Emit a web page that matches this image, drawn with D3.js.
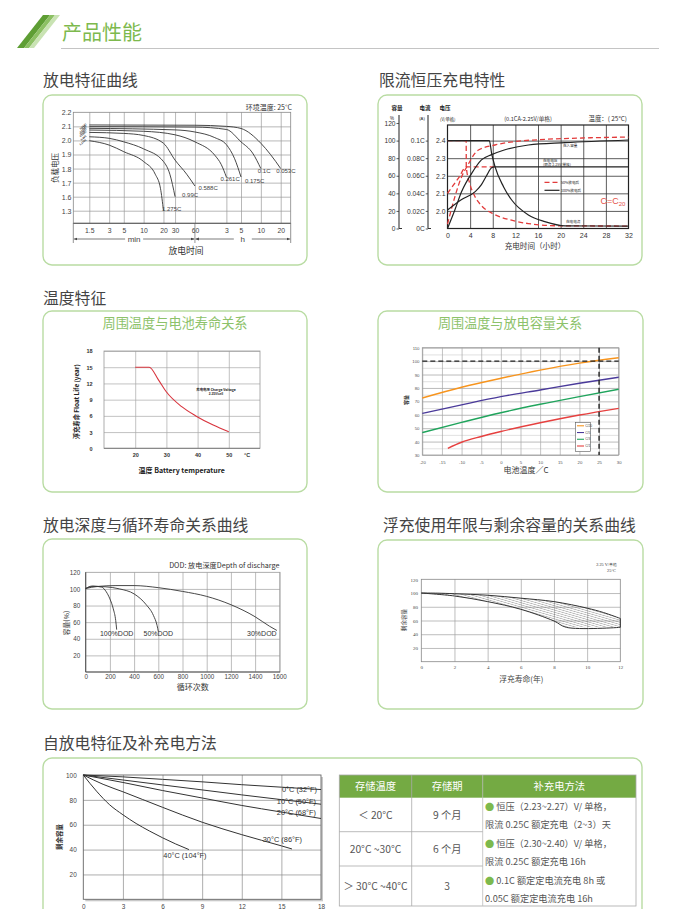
<!DOCTYPE html>
<html><head><meta charset="utf-8"><title>产品性能</title>
<script src="https://cdn.jsdelivr.net/npm/d3@7/dist/d3.min.js"></script>
<style>html,body{margin:0;padding:0;background:#fff}svg{display:block}</style>
</head><body><svg id="c" width="675" height="909" viewBox="0 0 675 909"></svg>
<script>
// ================= DATA =================
const pageTitle = "产品性能";
const sectionTitles = ["放电特征曲线","限流恒压充电特性","温度特征","放电深度与循环寿命关系曲线","浮充使用年限与剩余容量的关系曲线","自放电特征及补充电方法"];
const panelTitles = ["周围温度与电池寿命关系","周围温度与放电容量关系"];

// 1. discharge characteristics (x: minutes, y: V/cell)
const dischargeTimeTicks = [1.5,3,5,10,20,30,60,180,300,600,1200];
const dischargeTimeLabels = ["1.5","3","5","10","20","30","60","3","5","10","20"];
const dischargeVoltTicks = [2.2,2.1,2.0,1.9,1.8,1.7,1.6,1.3];
const dischargeVoltLabels = ["2.2","2.1","2.0","1.9","1.8","1.7","1.6","1.3"];
const dischargeRates = ["0.053C","0.1C","0.175C","0.261C","0.588C","0.99C","1.275C"];
const dischargeCurves = [
  [[1.5,2.11],[60,2.108],[180,2.1],[300,2.085],[600,1.98],[840,1.9],[1200,1.8]],
  [[1.5,2.098],[60,2.095],[180,2.078],[300,1.99],[450,1.91],[600,1.8]],
  [[1.5,2.086],[30,2.075],[60,2.06],[120,2.02],[180,1.97],[240,1.87],[300,1.74]],
  [[1.5,2.074],[10,2.065],[30,2.04],[60,1.99],[120,1.895],[150,1.83],[180,1.74]],
  [[1.5,2.057],[5,2.05],[10,2.035],[20,1.98],[30,1.86],[45,1.76],[60,1.676]],
  [[1.5,2.026],[3,2.015],[5,1.99],[10,1.94],[20,1.85],[25,1.76],[30,1.6]],
  [[1.5,1.998],[3,1.967],[5,1.92],[10,1.85],[15,1.76],[18,1.66],[20,1.3]]
];
const ambientNote = "环境温度: 25°C";

// 2. constant-voltage current-limited charging (x: hours)
const chargeTimeTicks = [0,4,8,12,16,20,24,28,32];
const capTicks = [0,20,40,60,80,100,120];
const curTicks = [0,0.02,0.04,0.06,0.08,0.1];
const curTickLabels = ["0C","0.02C","0.04C","0.06C","0.08C","0.1C"];
const chgVoltTicks = [2.0,2.1,2.2,2.3,2.4];
const chgVoltLabels = ["2.0","2.1","2.2","2.3","2.4"];
const cap50 = [[0,5],[1.3,36],[2.5,59],[3.4,70],[5.4,89],[8.4,95],[12,99],[16,101],[24,103],[32,104]];        // %
const cap100 = [[0,0],[1.3,21],[2.5,42],[4.3,63],[6.0,78],[7.8,84],[9.9,89],[14.3,95],[20.8,97.6],[32,100.7]]; // %
const cur50 = [[0,0.1],[3.3,0.1],[3.32,0.07],[3.9,0.052],[4.8,0.037],[6.0,0.026],[8.3,0.016],[11.3,0.0094],[14.3,0.0056],[20,0.003],[32,0.0028]]; // C
const cur100 = [[0,0.1],[7.4,0.1],[7.8,0.0856],[8.4,0.0704],[9.9,0.0476],[11.35,0.0324],[14.3,0.0154],[17.2,0.0078],[20.8,0.003],[32,0.0028]]; // C
const volt50 = [[0,2.1],[1,2.145],[2,2.19],[3.3,2.25],[8.3,2.25]];   // V
const volt100 = [[0,2.005],[2.5,2.065],[4.9,2.11],[6.0,2.15],[6.9,2.2],[7.8,2.245],[8.3,2.25],[32,2.25]]; // V
const chargeLegend = ["50%放电后","100%放电后"];

// 3. temperature vs float life
const lifeTempTicks = [20,30,40,50];
const lifeTicks = [0,3,6,9,12,15,18];
const floatLifeCurve = [[20,15],[24.5,15],[27.4,12.7],[29.9,10.5],[34.9,7.7],[39.7,5.9],[45,4.3],[50,3.05]];

// 4. temperature vs capacity
const capTempTicks = [-20,-15,-10,-5,0,5,10,15,20,25,30];
const capPctTicks = [30,40,50,60,70,80,90,100,110];
const capRates = ["C/20","C/5","C/3","C/1"];
const capCurves = [
  [[-20,72.5],[-10,80.5],[0,87.2],[10,93.3],[20,98.5],[30,102.5]],
  [[-20,61],[-10,67.4],[0,73.5],[10,78.5],[20,83.5],[30,88]],
  [[-20,46.7],[-10,54.3],[0,61.5],[10,67.8],[20,73.5],[30,79]],
  [[-13.5,35],[-10,39.5],[-5,43.8],[0,47.5],[10,54],[20,59.8],[30,64.8]]
];
const capRefLevel = 100, capRefTemp = 25;

// 5. DOD vs cycle life
const cycleTicks = [0,200,400,600,800,1000,1200,1400,1600];
const dodCapTicks = [20,40,60,80,100,120];
const dodNames = ["100%DOD","50%DOD","30%DOD"];
const dodCurves = [
  [[0,100.5],[55,103.5],[130,102.3],[170,96.5],[200,88],[228,76],[248,62],[256,51]],
  [[0,100.5],[60,103],[160,102.6],[280,100],[400,94],[500,81],[560,68],[590,56],[600,49]],
  [[0,100.5],[100,103],[250,104],[400,104],[600,101.5],[800,97],[1000,91],[1200,81],[1400,66.5],[1520,55],[1580,50]]
];

// 6. float years vs remaining capacity
const yearTicks = [0,2,4,6,8,10,12];
const remCapTicks = [20,40,60,80,100,120];
const floatUpper = [[0,100],[1,99.8],[2,99],[4,96.8],[6,92.5],[8,87.5],[10,78],[11,71.5],[12,63]];
const floatLower = [[0,100],[2,95.7],[4,87.5],[6,76.3],[8,59.3],[8.75,50],[12,50]];

// 7. self discharge (x: months)
const sdMonthTicks = [0,3,6,9,12,15,18];
const sdCapTicks = [20,40,60,80,100];
const sdNames = ["0°C (32°F)","10°C (50°F)","20°C (68°F)","30°C (86°F)","40°C (104°F)"];
const sdCurves = [
  [[0,100],[3,98.5],[6,96.5],[9,94.5],[12,92.2],[15,90.2],[18,88.3]],
  [[0,100],[3,96],[6,92],[9,88],[12,84],[15,80.2],[18,76.5]],
  [[0,100],[3,94],[6,87.5],[9,81.5],[12,75.5],[15,70.2],[18,65]],
  [[0,100],[1.5,92.5],[3,86.5],[6,74],[9,62],[12,52],[15,43],[15.8,40.5]],
  [[0,100],[1,87],[2,76],[3,68],[4,61],[5,55],[6,49.5],[7,44.5],[8,40]]
];

// table
const tableHeader = ["存储温度","存储期","补充电方法"];
const tableTemp = ["＜ 20°C","20°C ~30°C","＞ 30°C ~40°C"];
const tablePeriod = ["9 个月","6 个月","3"];
const tableMethod = [
  ["恒压（2.23~2.27）V/ 单格，","限流 0.25C 额定充电（2~3）天"],
  ["恒压（2.30~2.40）V/ 单格，","限流 0.25C 额定充电 16h"],
  ["0.1C 额定定电流充电 8h 或","0.05C 额定定电流充电 16h"]
];

// ================= DRAWING =================
const svg = d3.select('#c');
const CJK = '"Noto Sans CJK SC","Noto Sans",sans-serif';
const SANS = '"Liberation Sans",Arial,sans-serif';
const SERIF = '"Liberation Serif","Times New Roman",serif';
const GREEN = '#7db94d';

function T(g, x, y, s, o = {}) {
  const t = g.append('text').attr('x', x).attr('y', y).text(s)
    .attr('font-family', o.ff || SANS).attr('font-size', o.fs || 8)
    .attr('fill', o.fill || '#333').attr('text-anchor', o.anchor || 'start');
  if (o.fw) t.attr('font-weight', o.fw);
  if (o.rot != null) t.attr('transform', `rotate(${o.rot},${x},${y})`);
  return t;
}
function ax(g, o) {
  g.attr('font-size', o.fs || 7).attr('font-family', o.ff || SANS);
  g.select('.domain').remove();
  g.selectAll('.tick text').attr('fill', o.fill || '#444');
  if (o.fw) g.selectAll('.tick text').attr('font-weight', o.fw);
  g.selectAll('.tick line').attr('stroke', o.stroke || '#999').attr('stroke-width', o.sw || 0.7);
  return g;
}
function gridY(p, scale, vals, xL, xR, stroke, sw) {
  const g = p.append('g').attr('transform', `translate(${xL},0)`)
    .call(d3.axisLeft(scale).tickValues(vals).tickSize(-(xR - xL)).tickFormat(''));
  return ax(g, { stroke, sw });
}
function gridX(p, scale, vals, yT, yB, stroke, sw) {
  const g = p.append('g').attr('transform', `translate(0,${yB})`)
    .call(d3.axisBottom(scale).tickValues(vals).tickSize(-(yB - yT)).tickFormat(''));
  return ax(g, { stroke, sw });
}
function labelsY(p, scale, vals, labels, x, o) {
  const g = p.append('g').attr('transform', `translate(${x},0)`)
    .call(d3.axisLeft(scale).tickValues(vals).tickSize(0).tickPadding(0).tickFormat((d, i) => labels ? labels[i] : d));
  ax(g, o);
  g.selectAll('.tick text').attr('x', 0).attr('dy', '0.35em');
  return g;
}
function labelsX(p, scale, vals, labels, y, o) {
  const g = p.append('g').attr('transform', `translate(0,${y})`)
    .call(d3.axisBottom(scale).tickValues(vals).tickSize(0).tickPadding(0).tickFormat((d, i) => labels ? labels[i] : d));
  ax(g, o);
  g.selectAll('.tick text').attr('y', 0).attr('dy', null);
  return g;
}
function frame(p, x0, y0, x1, y1, stroke, sw) {
  p.append('rect').attr('x', x0).attr('y', y0).attr('width', x1 - x0).attr('height', y1 - y0)
    .attr('fill', 'none').attr('stroke', stroke).attr('stroke-width', sw);
}
function panel(x, y, w, h) {
  svg.append('rect').attr('x', x).attr('y', y).attr('width', w).attr('height', h).attr('rx', 9)
    .attr('fill', '#fff').attr('stroke', '#b9dca3').attr('stroke-width', 1.4);
}

const defs = svg.append('defs');
defs.append('marker').attr('id', 'arr').attr('viewBox', '0 0 10 10').attr('refX', 10).attr('refY', 5)
  .attr('markerWidth', 5).attr('markerHeight', 5).attr('orient', 'auto-start-reverse')
  .append('path').attr('d', 'M0,1L10,5L0,9z').attr('fill', '#444');
const pat = defs.append('pattern').attr('id', 'hatch').attr('patternUnits', 'userSpaceOnUse')
  .attr('width', 8).attr('height', 2.1).attr('patternTransform', 'rotate(16)');
pat.append('line').attr('x1', 0).attr('y1', 1).attr('x2', 8).attr('y2', 1).attr('stroke', '#555').attr('stroke-width', 0.4);

// ---- header ----
const stripes = [['#5e9e34', 17, 24, 43, 50], ['#8cc063', 24, 29, 50, 55], ['#c9e3b3', 29, 34, 55, 60]];
stripes.forEach(s => svg.append('polygon')
  .attr('points', `${s[1]},48 ${s[2]},48 ${s[4]},15 ${s[3]},15`).attr('fill', s[0]));
T(svg, 62, 39.5, pageTitle, { ff: CJK, fs: 20, fill: GREEN });
svg.append('line').attr('x1', 61).attr('x2', 659).attr('y1', 48.5).attr('y2', 48.5).attr('stroke', '#c4c4c4').attr('stroke-width', 1);

const secPos = [[43, 86], [379, 86], [43, 304], [43, 531], [383, 531], [43, 749]];
sectionTitles.forEach((s, i) => T(svg, secPos[i][0], secPos[i][1], s, { ff: CJK, fs: 15.8, fill: '#444' }));

// panels
panel(43, 95, 264, 170);
panel(378, 95, 264, 170);
panel(43, 311, 264, 181);
panel(378, 311, 265, 181);
panel(43, 539, 264, 170);
panel(378, 540, 265, 169);
panel(43, 758, 599, 200);

// ================= PANEL 1 =================
{
  const g = svg.append('g');
  const f = { l: 73.3, r: 290.7, t: 112.3, b: 223.3 };
  const x = d3.scaleLog().domain([1.5, 1200]).range([89.3, 280.7]);
  const y = d3.scaleLinear().domain([1.3, 1.6, 2.2]).range([210.7, 196.7, 112.3]);
  gridY(g, y, dischargeVoltTicks.slice(1), f.l, f.r, '#9a9a9a', 0.7);
  gridX(g, x, dischargeTimeTicks, f.t, f.b, '#9a9a9a', 0.7);
  frame(g, f.l, f.t, f.r, f.b, '#888', 0.8);
  g.append('line').attr('x1', f.l).attr('x2', f.r).attr('y1', f.b).attr('y2', f.b).attr('stroke', '#555').attr('stroke-width', 1.1);
  labelsY(g, y, dischargeVoltTicks, dischargeVoltLabels, 71.5, { fs: 7, fill: '#444' });
  labelsX(g, x, dischargeTimeTicks, dischargeTimeLabels, 232.5, { fs: 6.8, fill: '#444' });
  const line = d3.line().x(d => x(d[0])).y(d => y(d[1])).curve(d3.curveMonotoneX);
  dischargeCurves.forEach(c => g.append('path').attr('d', line(c)).attr('fill', 'none').attr('stroke', '#333').attr('stroke-width', 0.9));
  const lblOff = [[-4.5, 4.5], [-3, 4.5], [4, 5.5], [-6, 4], [3.5, 3.5], [7, 0], [-1.5, 0.5]];
  dischargeCurves.forEach((c, i) => {
    const e = c[c.length - 1];
    T(g, x(e[0]) + lblOff[i][0], y(e[1]) + lblOff[i][1], dischargeRates[i], { fs: 6, fill: '#444' });
  });
  // tiny start labels
  dischargeCurves.forEach((c, i) => {
    const s = c[0];
    T(g, x(s[0]) - 2.5, y(s[1]) - 0.5, dischargeRates[i], { fs: 2.6, fill: '#222', fw: 'bold', anchor: 'end', rot: -40 });
  });
  T(g, 292, 110, ambientNote, { ff: CJK, fs: 7, fill: '#333', anchor: 'end' });
  T(g, 55, 168, '负载电压', { ff: CJK, fs: 7.5, fill: '#333', anchor: 'middle', rot: -90 }).attr('dy', '0.35em');
  // min / h row
  const x60 = x(60), yr = 239;
  [[f.l, x60, 'min'], [x60, f.r, 'h']].forEach(seg => {
    const c = (seg[0] + seg[1]) / 2;
    g.append('line').attr('x1', seg[0] + 0.5).attr('x2', seg[1] - 0.5).attr('y1', yr).attr('y2', yr)
      .attr('stroke', '#444').attr('stroke-width', 0.7).attr('marker-start', 'url(#arr)').attr('marker-end', 'url(#arr)');
    g.append('rect').attr('x', c - 9).attr('y', yr - 4).attr('width', 18).attr('height', 8).attr('fill', '#fff');
    T(g, c, yr + 2.8, seg[2], { fs: 8, fill: '#444', anchor: 'middle' });
  });
  [f.l, x60, f.r].forEach(v => g.append('line').attr('x1', v).attr('x2', v).attr('y1', f.b).attr('y2', 243).attr('stroke', '#666').attr('stroke-width', 0.7));
  T(g, 186, 253.5, '放电时间', { ff: CJK, fs: 8.8, fill: '#333', anchor: 'middle' });
}

// ================= PANEL 2 =================
{
  const g = svg.append('g');
  const f = { l: 447.5, r: 628.5, t: 125, b: 228.5 };
  const x = d3.scaleLinear().domain([0, 32]).range([447.5, 628.5]);
  const yv = d3.scaleLinear().domain([1.9, 2.4]).range([228.5, 140.6]);
  const yCap = d3.scaleLinear().domain([0, 100]).range([228.5, 140.6]);
  const yCur = d3.scaleLinear().domain([0, 0.1]).range([228.5, 140.6]);
  gridY(g, yv, chgVoltTicks, f.l, f.r, '#333', 0.8);
  gridX(g, x, chargeTimeTicks.slice(1, -1), f.t, f.b, '#333', 0.8);
  frame(g, f.l, f.t, f.r, f.b, '#222', 1.2);
  // left axes
  const ca = g.append('g').attr('transform', 'translate(399,0)')
    .call(d3.axisLeft(yCap).tickValues(capTicks).tickSize(2.5).tickPadding(1));
  ax(ca, { fs: 6.6, fill: '#333', stroke: '#333', sw: 0.8 });
  g.append('line').attr('x1', 399).attr('x2', 399).attr('y1', 115).attr('y2', yCap(0)).attr('stroke', '#333').attr('stroke-width', 1.1);
  g.append('line').attr('x1', 399).attr('x2', 402).attr('y1', yCap(0)).attr('y2', yCap(0)).attr('stroke', '#333').attr('stroke-width', 1);
  const cu = g.append('g').attr('transform', 'translate(428,0)')
    .call(d3.axisLeft(yCur).tickValues(curTicks).tickSize(2.3).tickPadding(1).tickFormat((d, i) => curTickLabels[i]));
  ax(cu, { fs: 6.6, fill: '#333', stroke: '#333', sw: 0.8 });
  g.append('line').attr('x1', 428).attr('x2', 428).attr('y1', 115).attr('y2', yCur(0)).attr('stroke', '#333').attr('stroke-width', 1.1);
  g.append('line').attr('x1', 428).attr('x2', 431).attr('y1', yCur(0)).attr('y2', yCur(0)).attr('stroke', '#333').attr('stroke-width', 1);
  labelsY(g, yv, chgVoltTicks, chgVoltLabels, 445.5, { fs: 6.8, fill: '#333' });
  labelsX(g, x, chargeTimeTicks, null, 237.5, { fs: 7, fill: '#333' });
  T(g, 535, 249, '充电时间（小时）', { ff: CJK, fs: 7.6, fill: '#333', anchor: 'middle' });
  // header labels
  T(g, 397, 110, '容量', { ff: CJK, fs: 5.5, fill: '#222', anchor: 'middle', fw: 'bold' });
  T(g, 392, 119.5, '%', { fs: 4.5, fill: '#222', anchor: 'middle' });
  T(g, 425, 110, '电流', { ff: CJK, fs: 5.5, fill: '#222', anchor: 'middle', fw: 'bold' });
  T(g, 422, 119.5, '(A)', { fs: 4.2, fill: '#222', anchor: 'middle' });
  T(g, 445, 110, '电压', { ff: CJK, fs: 5.5, fill: '#222', anchor: 'middle', fw: 'bold' });
  T(g, 440, 120.5, '(V/单格)', { ff: CJK, fs: 4.3, fill: '#222' });
  T(g, 528, 121, '(0.1CA-2.25V/单格)', { ff: CJK, fs: 5.6, fill: '#333', anchor: 'middle' });
  T(g, 627, 121, '温度：( 25°C)', { ff: CJK, fs: 6.4, fill: '#333', anchor: 'end' });
  const L = (ys) => d3.line().x(d => x(d[0])).y(d => ys(d[1])).curve(d3.curveMonotoneX);
  const red = '#e23b3b';
  [[cap50, yCap], [cur50, yCur], [volt50, yv]].forEach(([c, s]) =>
    g.append('path').attr('d', L(s)(c)).attr('fill', 'none').attr('stroke', red).attr('stroke-width', 1.3).attr('stroke-dasharray', '5,3'));
  [[cap100, yCap], [cur100, yCur], [volt100, yv]].forEach(([c, s]) =>
    g.append('path').attr('d', L(s)(c)).attr('fill', 'none').attr('stroke', '#222').attr('stroke-width', 1.2));
  // annotations
  T(g, 563, 147, '充入容量', { ff: CJK, fs: 3.6, fill: '#222' });
  T(g, 543, 162, '充电电压', { ff: CJK, fs: 3.6, fill: '#222' });
  T(g, 543, 166.3, '(限流 2.25V/单格)', { ff: CJK, fs: 3.6, fill: '#222' });
  T(g, 566, 223, '充电电流', { ff: CJK, fs: 3.6, fill: '#222' });
  g.append('line').attr('x1', 544.5).attr('x2', 559.5).attr('y1', 182.3).attr('y2', 182.3).attr('stroke', red).attr('stroke-width', 1.3).attr('stroke-dasharray', '5,3');
  g.append('line').attr('x1', 544.5).attr('x2', 559.5).attr('y1', 190.3).attr('y2', 190.3).attr('stroke', '#222').attr('stroke-width', 1.2);
  T(g, 561, 183.6, chargeLegend[0], { ff: CJK, fs: 3.6, fill: '#222' });
  T(g, 561, 191.6, chargeLegend[1], { ff: CJK, fs: 3.6, fill: '#222' });
  const cc = T(g, 600.5, 204, 'C=C', { fs: 9, fill: '#e5534b' });
  cc.append('tspan').attr('font-size', 6).attr('dy', 1.5).text('20');
}

// ================= PANEL 3 =================
{
  const g = svg.append('g');
  T(g, 175, 328, panelTitles[0], { ff: CJK, fs: 13.2, fill: '#8dc26a', anchor: 'middle' });
  const f = { l: 104, r: 260, t: 351, b: 448.3 };
  const x = d3.scaleLinear().domain([10, 60]).range([104, 260]);
  const y = d3.scaleLinear().domain([0, 18]).range([448.3, 351]);
  gridY(g, y, lifeTicks.slice(1), f.l, f.r, '#a8a8a8', 0.7);
  gridX(g, x, lifeTempTicks, f.t, f.b, '#a8a8a8', 0.7);
  frame(g, f.l, f.t, f.r, f.b, '#999', 0.8);
  g.append('line').attr('x1', f.l).attr('x2', f.r).attr('y1', f.b).attr('y2', f.b).attr('stroke', '#777').attr('stroke-width', 0.9);
  labelsY(g, y, lifeTicks, null, 92.5, { fs: 5.5, fill: '#333', fw: 'bold' });
  labelsX(g, x, lifeTempTicks, null, 456.5, { fs: 5.5, fill: '#333', fw: 'bold' });
  T(g, 244, 456.5, '°C', { fs: 5.5, fill: '#333', fw: 'bold' });
  T(g, 181.7, 472.5, '温度  Battery temperature', { ff: CJK, fs: 7, fill: '#222', fw: 'bold', anchor: 'middle' });
  T(g, 76.7, 401.7, '浮充寿命  Float Life (year)', { ff: CJK, fs: 6.3, fill: '#222', fw: 'bold', anchor: 'middle', rot: -90 }).attr('dy', '0.35em');
  T(g, 216, 391, '充电电压 Charge Voltage', { ff: CJK, fs: 3.4, fill: '#222', anchor: 'middle', fw: 'bold' });
  T(g, 216, 395, '2.25V/cell', { fs: 3.2, fill: '#222', anchor: 'middle', fw: 'bold' });
  const line = d3.line().x(d => x(d[0])).y(d => y(d[1])).curve(d3.curveMonotoneX);
  g.append('path').attr('d', line(floatLifeCurve)).attr('fill', 'none').attr('stroke', '#d8343d').attr('stroke-width', 1.1);
}

// ================= PANEL 4 =================
{
  const g = svg.append('g');
  T(g, 510, 328, panelTitles[1], { ff: CJK, fs: 13.1, fill: '#8dc26a', anchor: 'middle' });
  const f = { l: 422.3, r: 618.7, t: 347.7, b: 455 };
  const x = d3.scaleLinear().domain([-20, 30]).range([f.l, f.r]);
  const y = d3.scaleLinear().domain([30, 110]).range([f.b, f.t]);
  gridY(g, y, d3.range(35, 110, 10), f.l, f.r, '#d4d4d4', 0.7);
  gridY(g, y, capPctTicks, f.l, f.r, '#9e9e9e', 0.7);
  gridX(g, x, capTempTicks, f.t, f.b, '#a8a8a8', 0.7);
  frame(g, f.l, f.t, f.r, f.b, '#999', 0.8);
  labelsY(g, y, capPctTicks, null, 419.5, { fs: 4.3, fill: '#555' });
  labelsX(g, x, capTempTicks, null, 463.5, { fs: 4.3, fill: '#555' });
  T(g, 526, 473, '电池温度／C', { ff: CJK, fs: 8, fill: '#333', anchor: 'middle' });
  T(g, 406.5, 400, '容量', { ff: CJK, fs: 5, fill: '#333', fw: 'bold', anchor: 'middle', rot: -90 }).attr('dy', '0.35em');
  const colors = ['#f7941d', '#4a3a9a', '#1fa45c', '#e6403f'];
  const line = d3.line().x(d => x(d[0])).y(d => y(d[1])).curve(d3.curveMonotoneX);
  capCurves.forEach((c, i) => g.append('path').attr('d', line(c)).attr('fill', 'none').attr('stroke', colors[i]).attr('stroke-width', 1.4));
  g.append('line').attr('x1', f.l).attr('x2', f.r).attr('y1', y(capRefLevel)).attr('y2', y(capRefLevel))
    .attr('stroke', '#222').attr('stroke-width', 1.4).attr('stroke-dasharray', '5,3');
  g.append('line').attr('x1', x(capRefTemp)).attr('x2', x(capRefTemp)).attr('y1', f.t).attr('y2', f.b)
    .attr('stroke', '#222').attr('stroke-width', 1.4).attr('stroke-dasharray', '5,3');
  // legend
  g.append('rect').attr('x', 575.3).attr('y', 422.3).attr('width', 15).attr('height', 29.4).attr('fill', '#fff').attr('stroke', '#555').attr('stroke-width', 0.6);
  const ly = d3.scalePoint().domain(capRates).range([425.8, 446]);
  capRates.forEach((r, i) => {
    g.append('line').attr('x1', 577).attr('x2', 584).attr('y1', ly(r)).attr('y2', ly(r)).attr('stroke', colors[i]).attr('stroke-width', 1.1);
    T(g, 585.2, ly(r) + 1.2, r, { fs: 3.3, fill: '#444' });
  });
}

// ================= PANEL 5 =================
{
  const g = svg.append('g');
  const f = { l: 85.7, r: 280, t: 572.3, b: 672 };
  const x = d3.scaleLinear().domain([0, 1600]).range([85.7, 279.3]);
  const y = d3.scaleLinear().domain([0, 120]).range([672, 572.3]);
  gridY(g, y, dodCapTicks.slice(0, -1), f.l, f.r, '#a0a0a0', 0.7);
  gridX(g, x, cycleTicks.slice(1), f.t, f.b, '#a0a0a0', 0.7);
  frame(g, f.l, f.t, f.r, f.b, '#999', 0.8);
  g.append('line').attr('x1', f.l).attr('x2', f.r).attr('y1', f.b).attr('y2', f.b).attr('stroke', '#555').attr('stroke-width', 1.1);
  g.append('line').attr('x1', f.l).attr('x2', f.l).attr('y1', f.t).attr('y2', f.b).attr('stroke', '#555').attr('stroke-width', 1.1);
  labelsY(g, y, dodCapTicks, null, 80.3, { fs: 6.3, fill: '#444' });
  labelsX(g, x, cycleTicks, null, 678.5, { fs: 6.3, fill: '#444' });
  T(g, 192.7, 689.5, '循环次数', { ff: CJK, fs: 8, fill: '#333', anchor: 'middle' });
  T(g, 66.7, 623, '容量(%)', { ff: CJK, fs: 6.8, fill: '#333', anchor: 'middle', rot: -90 }).attr('dy', '0.35em');
  T(g, 279.5, 568.3, 'DOD: 放电深度Depth of discharge', { ff: CJK, fs: 7.2, fill: '#333', anchor: 'end' });
  const line = d3.line().x(d => x(d[0])).y(d => y(d[1])).curve(d3.curveMonotoneX);
  dodCurves.forEach(c => g.append('path').attr('d', line(c)).attr('fill', 'none').attr('stroke', '#333').attr('stroke-width', 0.9));
  const dx = [0, 0, -15];
  dodCurves.forEach((c, i) => {
    const e = c[c.length - 1];
    T(g, x(e[0]) + dx[i], 635.5, dodNames[i], { fs: 7, fill: '#333', anchor: 'middle' });
  });
}

// ================= PANEL 6 =================
{
  const g = svg.append('g');
  const f = { l: 421.3, r: 620.3, t: 579.3, b: 661.7 };
  const x = d3.scaleLinear().domain([0, 12]).range([f.l, f.r]);
  const y = d3.scaleLinear().domain([0, 120]).range([f.b, f.t]);
  gridY(g, y, remCapTicks.slice(0, -1), f.l, f.r, '#a0a0a0', 0.7);
  gridX(g, x, yearTicks.slice(1, -1), f.t, f.b, '#a0a0a0', 0.7);
  frame(g, f.l, f.t, f.r, f.b, '#888', 0.8);
  labelsY(g, y, remCapTicks, null, 418, { ff: SERIF, fs: 5, fill: '#444' });
  labelsX(g, x, yearTicks, null, 668.8, { ff: SERIF, fs: 5, fill: '#444' });
  T(g, 521.3, 682, '浮充寿命(年)', { ff: CJK, fs: 7.8, fill: '#444', anchor: 'middle' });
  T(g, 404, 620, '剩余容量', { ff: CJK, fs: 5.6, fill: '#444', anchor: 'middle', rot: -90 }).attr('dy', '0.35em');
  T(g, 617, 565.5, '2.25 V/单格', { ff: SERIF, fs: 4.3, fill: '#333', anchor: 'end' });
  T(g, 616, 571.5, '25°C', { ff: SERIF, fs: 4.3, fill: '#333', anchor: 'end' });
  const line = d3.line().x(d => x(d[0])).y(d => y(d[1])).curve(d3.curveCatmullRom.alpha(0.5));
  const lineL = d3.line().x(d => x(d[0])).y(d => y(d[1])).curve(d3.curveLinear);
  const lowerRev = floatLower.slice().reverse();
  const areaD = line(floatUpper) + 'L' + lineL(lowerRev).slice(1) + 'Z';
  g.append('path').attr('d', areaD).attr('fill', 'url(#hatch)').attr('stroke', 'none');
  g.append('path').attr('d', line(floatUpper)).attr('fill', 'none').attr('stroke', '#333').attr('stroke-width', 1);
  g.append('path').attr('d', line(floatLower)).attr('fill', 'none').attr('stroke', '#333').attr('stroke-width', 1);
  const eU = floatUpper[floatUpper.length - 1], eL = floatLower[floatLower.length - 1];
  g.append('line').attr('x1', x(eU[0])).attr('x2', x(eL[0])).attr('y1', y(eU[1])).attr('y2', y(eL[1])).attr('stroke', '#333').attr('stroke-width', 1);
}

// ================= PANEL 7 =================
{
  const g = svg.append('g');
  const f = { l: 83.3, r: 321, t: 775, b: 899.3 };
  const x = d3.scaleLinear().domain([0, 18]).range([f.l, f.r]);
  const y = d3.scaleLinear().domain([0, 100]).range([f.b, f.t]);
  g.append('rect').attr('x', f.l + 2).attr('y', f.t + 2).attr('width', f.r - f.l).attr('height', f.b - f.t).attr('fill', '#c8c8c8');
  g.append('rect').attr('x', f.l).attr('y', f.t).attr('width', f.r - f.l).attr('height', f.b - f.t).attr('fill', '#fff');
  gridY(g, y, sdCapTicks.slice(0, -1), f.l, f.r, '#8a8a8a', 0.7);
  gridX(g, x, sdMonthTicks.slice(1, -1), f.t, f.b, '#8a8a8a', 0.7);
  frame(g, f.l, f.t, f.r, f.b, '#666', 0.9);
  labelsY(g, y, sdCapTicks, null, 76.7, { fs: 6.4, fill: '#444' });
  labelsX(g, x, sdMonthTicks, null, 909, { fs: 6.4, fill: '#444' });
  T(g, 59.3, 837, '剩余容量', { ff: CJK, fs: 6.5, fill: '#333', anchor: 'middle', rot: -90, fw: 'bold' }).attr('dy', '0.35em');
  const line = d3.line().x(d => x(d[0])).y(d => y(d[1])).curve(d3.curveMonotoneX);
  sdCurves.forEach(c => g.append('path').attr('d', line(c)).attr('fill', 'none').attr('stroke', '#333').attr('stroke-width', 1));
  const off = [[-4, 2.5, 'end'], [-5, -0.6, 'end'], [-5, -3.5, 'end'], [10, -7, 'end'], [-4, 8.2, 'middle']];
  sdCurves.forEach((c, i) => {
    const e = c[c.length - 1];
    T(g, x(e[0]) + off[i][0], y(e[1]) + off[i][1], sdNames[i], { fs: 7.4, fill: '#333', anchor: off[i][2] });
  });
}

// ================= TABLE =================
{
  const g = svg.append('g');
  const colX = [339.3, 411.7, 482.7, 636];
  const hdr = { t: 775, b: 797.7 };
  const rowLines = [797.7, 831.7, 866, 906];
  g.append('rect').attr('x', colX[0]).attr('y', hdr.t).attr('width', colX[3] - colX[0]).attr('height', hdr.b - hdr.t).attr('fill', '#74aa43');
  tableHeader.forEach((h, i) => T(g, (colX[i] + colX[i + 1]) / 2, 790, h, { ff: CJK, fs: 10.3, fill: '#fff', anchor: 'middle' }));
  const stroke = '#a9a9a9';
  g.append('rect').attr('x', colX[0]).attr('y', hdr.t).attr('width', colX[3] - colX[0]).attr('height', rowLines[3] - hdr.t)
    .attr('fill', 'none').attr('stroke', stroke).attr('stroke-width', 0.8);
  [1, 2].forEach(i => g.append('line').attr('x1', colX[i]).attr('x2', colX[i]).attr('y1', hdr.t).attr('y2', rowLines[3]).attr('stroke', i === 1 ? stroke : '#bbb').attr('stroke-width', 0.8));
  [1, 2].forEach(i => g.append('line').attr('x1', colX[0]).attr('x2', colX[2]).attr('y1', rowLines[i]).attr('y2', rowLines[i]).attr('stroke', stroke).attr('stroke-width', 0.8));
  tableTemp.forEach((s, i) => {
    const cy = (rowLines[i] + rowLines[i + 1]) / 2 + 3.8;
    T(g, (colX[0] + colX[1]) / 2, cy, s, { ff: CJK, fs: 10.3, fill: '#555', anchor: 'middle' });
    T(g, (colX[1] + colX[2]) / 2, cy, tablePeriod[i], { ff: CJK, fs: 10.3, fill: '#555', anchor: 'middle' });
  });
  const mY = d3.scalePoint().domain(d3.range(6)).range([809.5, 902]);
  tableMethod.forEach((m, i) => {
    const t1 = T(g, 485, mY(i * 2), '', { ff: CJK, fs: 9.2, fill: '#555' });
    t1.append('tspan').attr('fill', GREEN).text('●');
    t1.append('tspan').text(' ' + m[0]);
    T(g, 485, mY(i * 2 + 1), m[1], { ff: CJK, fs: 9.2, fill: '#555' });
  });
}
</script></body></html>
